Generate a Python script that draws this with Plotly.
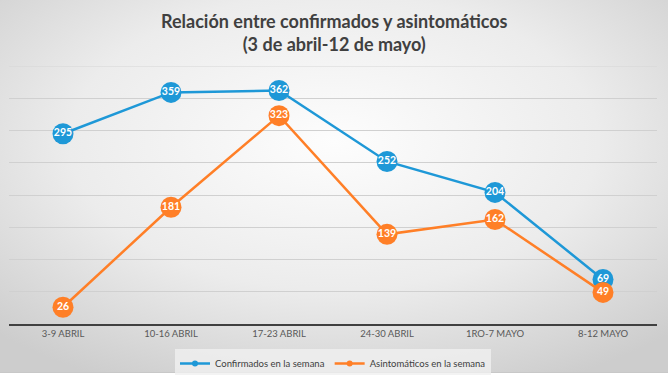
import plotly.graph_objects as go
import base64

categories = ["3-9 ABRIL", "10-16 ABRIL", "17-23 ABRIL", "24-30 ABRIL", "1RO-7 MAYO", "8-12 MAYO"]
confirmados = [295, 359, 362, 252, 204, 69]
asintomaticos = [26, 181, 323, 139, 162, 49]
series_names = ["Confirmados en la semana", "Asintomáticos en la semana"]
y_max = 400

BLUE = "#1E98D7"
ORANGE = "#FF7F27"
W, H = 668, 375
L, R, T, B = 9, 11, 66, 51
pw, ph = W - L - R, H - T - B

svg = f'''<svg xmlns="http://www.w3.org/2000/svg" width="{W}" height="{H}" preserveAspectRatio="none">
<defs><radialGradient id="g" cx="50%" cy="38%" r="72%" fx="50%" fy="38%">
<stop offset="0%" stop-color="#fdfdfd"/><stop offset="55%" stop-color="#ececec"/><stop offset="100%" stop-color="#cdcdcd"/></radialGradient></defs>
<rect x="0" y="0" width="{W}" height="{H-2}" fill="url(#g)"/>
<rect x="0" y="{H-3}" width="{W}" height="1" fill="#c8c8c8"/>
</svg>'''
src = "data:image/svg+xml;base64," + base64.b64encode(svg.encode()).decode()

fig = go.Figure()
for name, vals, col in [(series_names[0], confirmados, BLUE), (series_names[1], asintomaticos, ORANGE)]:
    fig.add_trace(go.Scatter(
        x=categories, y=vals, mode="lines+markers+text", name=name,
        line=dict(color=col, width=2.5),
        marker=dict(size=21, color=col, line=dict(width=0)),
        text=[str(v) for v in vals], textposition="middle center",
        textfont=dict(color="white", size=10.5, family="Lato", weight="bold"),
        showlegend=False, cliponaxis=False,
    ))
for name, col in [(series_names[0], BLUE), (series_names[1], ORANGE)]:
    fig.add_trace(go.Scatter(x=[None], y=[None], mode="lines+markers", name=name,
                             line=dict(color=col, width=2.5), marker=dict(size=6, color=col)))

fig.add_shape(type="line", xref="paper", yref="y", x0=0, x1=1, y0=y_max, y1=y_max,
              line=dict(color="#d6d6d6", width=1), layer="below")

fig.update_layout(
    width=W, height=H,
    margin=dict(l=L, r=R, t=T, b=B, autoexpand=False),
    paper_bgcolor="white", plot_bgcolor="rgba(0,0,0,0)",
    annotations=[dict(text="Relación entre confirmados y asintomáticos<br>(3 de abril-12 de mayo)",
                      xref="paper", yref="paper", x=0.5 - (L - R) / (2 * pw), xanchor="center",
                      y=1 + (T - 8) / ph, yanchor="top", showarrow=False,
                      font=dict(family="Lato", size=18, color="#404040", weight="bold"))],
    images=[dict(source=src, xref="paper", yref="paper", x=-L / pw, y=1 + T / ph,
                 sizex=W / pw, sizey=H / ph, sizing="stretch", xanchor="left", yanchor="top",
                 layer="below")],
    xaxis=dict(showgrid=False, showline=True, linecolor="#404040", linewidth=1.5,
               ticks="", tickfont=dict(family="Lato", size=9.5, color="#595959"),
               range=[-0.5, 5.5], fixedrange=True, automargin=False),
    yaxis=dict(range=[0, y_max], dtick=50, showgrid=True, gridcolor="#d0d0d0", gridwidth=1,
               showticklabels=False, zeroline=False, fixedrange=True, automargin=False),
    legend=dict(orientation="h", x=0.5, xanchor="center", y=-(349 - (T + ph)) / ph, yanchor="top",
                bgcolor="rgba(240,240,240,0.8)", font=dict(family="Lato", size=9.5, color="#404040"),
                itemwidth=30, tracegroupgap=0),
    showlegend=True,
)
fig.write_html("out.html", config={"displayModeBar": False},
               post_script="document.body.style.margin='0';document.body.style.overflow='hidden';")
